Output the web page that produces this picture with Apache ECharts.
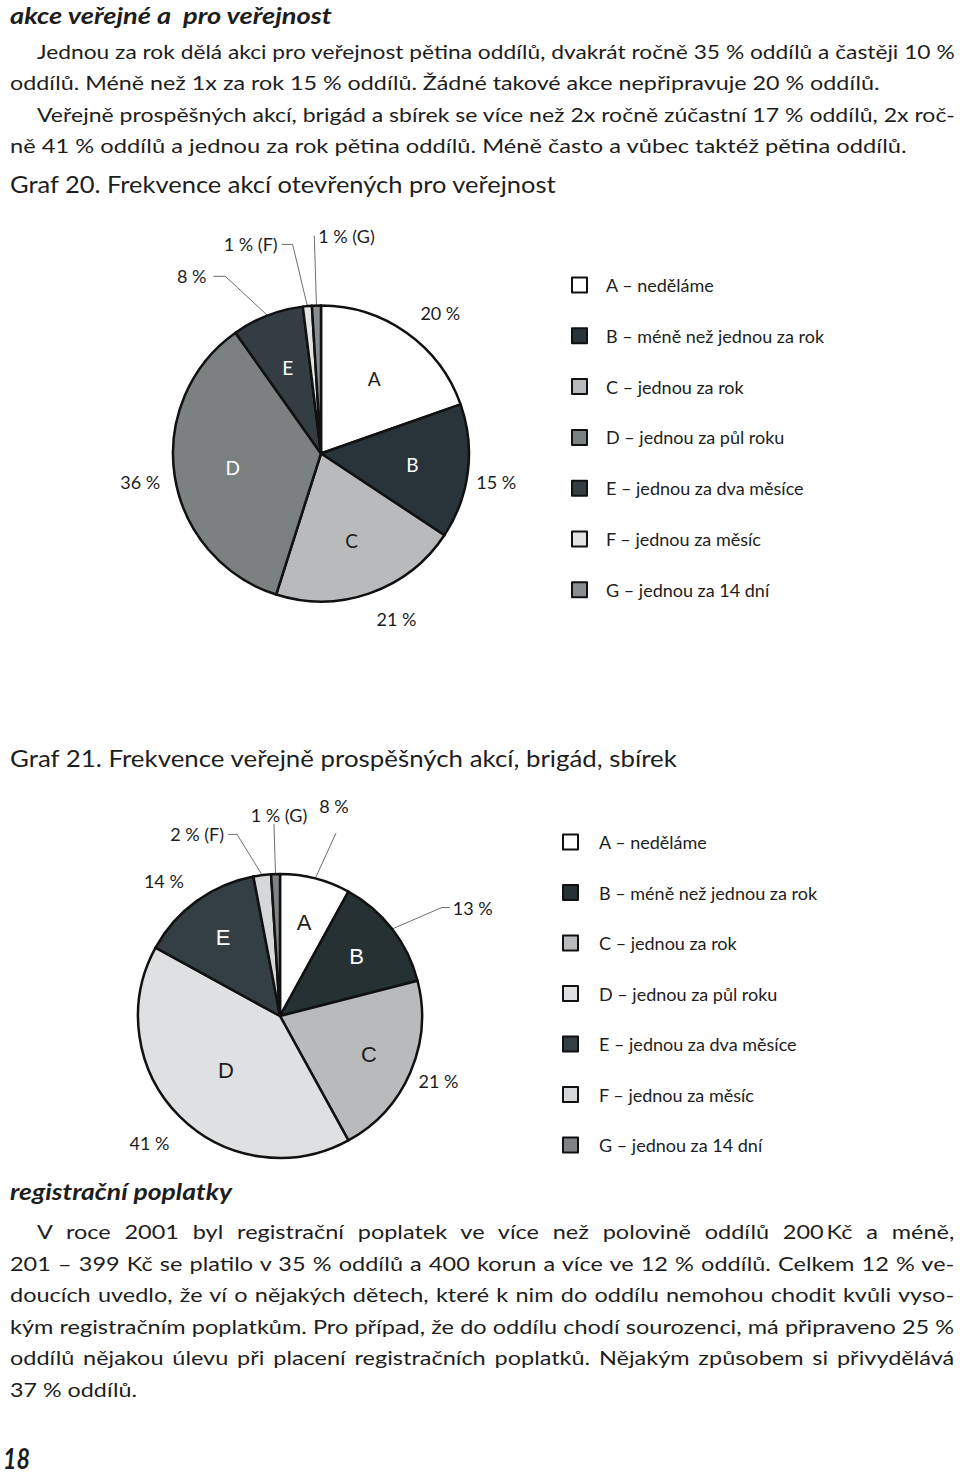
<!DOCTYPE html>
<html><head><meta charset="utf-8">
<script src="https://cdn.jsdelivr.net/npm/echarts@6/dist/echarts.min.js"></script>
<style>
html,body{margin:0;padding:0;background:#fff;}
#page{position:relative;width:960px;height:1475px;overflow:hidden;background:#fff;}
#c1,#c2{position:absolute;left:0;top:0;width:960px;height:1475px;}
#txt{position:absolute;left:0;top:0;}
</style></head>
<body><div id="page"><div id="c1"></div><div id="c2"></div>
<svg id="txt" width="960" height="1475" xmlns="http://www.w3.org/2000/svg"></svg></div>
<script>
// ---------- data ----------
const letters = ['A','B','C','D','E','F','G'];
const categories = ['neděláme','méně než jednou za rok','jednou za rok','jednou za půl roku','jednou za dva měsíce','jednou za měsíc','jednou za 14 dní'];
const graf20Values = [20, 15, 21, 36, 8, 1, 1];
const graf21Values = [8, 13, 21, 41, 14, 2, 1];
const graf20Title = 'Graf 20. Frekvence akcí otevřených pro veřejnost';
const graf21Title = 'Graf 21. Frekvence veřejně prospěšných akcí, brigád, sbírek';

// ---------- styles ----------
const graf20Colors = ['#ffffff','#29343a','#b8babb','#7b8081','#343e42','#e4e4e4','#898d8f'];
const graf21Colors = ['#ffffff','#263134','#b8babc','#dfe0e1','#343f43','#d6d7d8','#7f8385'];
const graf20InnerColors = ['#1d1d1d','#ffffff','#1d1d1d','#ffffff','#ffffff'];
const graf21InnerColors = ['#1d1d1d','#ffffff','#1d1d1d','#1d1d1d','#ffffff'];
// [length, length2, distanceToLabelLine, showLine]
const graf20LabelPlace = [[24,0,0,false],[87,-78,0,false],[28,-3,0,false],[35,-20,0,false],[42,39,7,true],[62,20,4,true],[70,0,4,true]];
const graf21LabelPlace = [[47,0,0,true],[35,30,3,true],[22,-12,0,false],[37,-16,0,false],[25,-2,0,false],[41,29,4,true],[50,0,0,true]];
// horizontal shift of the leader-line elbow
const graf20Elbow = [0, 0, 0, 0, -27, -9, 0];
const graf21Elbow = [0, 22, 0, 0, 0, -20, 0];

const legendNames = letters.map((l, i) => l + ' – ' + categories[i]);
function outerText(values, i) {
  return values[i] + ' %' + (i >= 5 ? ' (' + letters[i] + ')' : '');
}

function buildOption(cfg) {
  const names = legendNames;
  return {
    animation: false,
    backgroundColor: 'transparent',
    legend: {
      orient: 'vertical', left: cfg.legendLeft, top: cfg.legendTop, padding: 0,
      itemWidth: 15, itemHeight: 15, itemGap: cfg.legendGap, icon: 'rect',
      selectedMode: false, data: names,
      textStyle: { fontFamily: 'Lato', fontSize: 18, color: '#1d1d1d', lineHeight: 18, padding: [0, 0, 0, cfg.legendTextPad] },
      itemStyle: { borderColor: '#111', borderWidth: 2 }
    },
    series: [
      {
        type: 'pie', center: cfg.center, radius: cfg.radius, startAngle: 90, clockwise: true,
        avoidLabelOverlap: false, silent: true, emphasis: { disabled: true },
        itemStyle: { borderColor: '#111', borderWidth: 2.5 },
        label: { show: true, position: 'outside', color: '#1d1d1d', fontFamily: 'Lato', fontSize: 18,
          formatter: p => outerText(cfg.values, p.dataIndex) },
        labelLine: { show: false, smooth: false, lineStyle: { color: '#6f6f6f', width: 1 } },
        labelLayout: cfg.labelLayout,
        data: cfg.values.map((v, i) => ({
          value: v, name: names[i], itemStyle: { color: cfg.colors[i] },
          label: { distanceToLabelLine: cfg.place[i][2] },
          labelLine: { show: cfg.place[i][3], length: cfg.place[i][0], length2: cfg.place[i][1] }
        }))
      },
      {
        type: 'pie', center: cfg.center, radius: [cfg.ringInner, cfg.radius], startAngle: 90, clockwise: true,
        avoidLabelOverlap: false, silent: true, emphasis: { disabled: true }, z: 3,
        itemStyle: { color: 'rgba(0,0,0,0)', borderWidth: 0 },
        label: { show: true, position: 'inside', fontFamily: cfg.innerFont, fontSize: cfg.innerSize,
          formatter: p => letters[p.dataIndex] },
        labelLine: { show: false },
        labelLayout: function (p) {
          const f = cfg.innerPull[p.dataIndex];
          if (f == null || f === 1) return {};
          const lx = p.labelRect.x + p.labelRect.width / 2, ly = p.labelRect.y + p.labelRect.height / 2;
          return { x: cfg.center[0] + (lx - cfg.center[0]) * f, y: cfg.center[1] + (ly - cfg.center[1]) * f,
                   align: 'center', verticalAlign: 'middle' };
        },
        data: cfg.values.map((v, i) => ({
          value: v, name: letters[i],
          label: { show: i < 5, color: cfg.innerColors[i] || '#1d1d1d' }
        }))
      }
    ]
  };
}

function elbowOnly(elbow) {
  return function (p) {
    const d = elbow[p.dataIndex];
    if (!d || !p.labelLinePoints) return null;
    const pts = p.labelLinePoints;
    return { labelLinePoints: [pts[0], [pts[1][0] + d, pts[1][1]], pts[2]] };
  };
}

const chart1 = echarts.init(document.getElementById('c1'), null, { renderer: 'svg' });
const lay1 = elbowOnly(graf20Elbow);
chart1.setOption(buildOption({
  values: graf20Values, colors: graf20Colors, innerColors: graf20InnerColors, place: graf20LabelPlace,
  center: [321, 453.5], radius: 148, ringInner: 30, innerFont: 'Lato', innerSize: 19,
  innerPull: [1, 1, 1, 0.97, 1],
  legendLeft: 571, legendTop: 276, legendGap: 32.8, legendTextPad: 14,
  labelLayout: function (p) {
    if (p.dataIndex === 6 && p.labelLinePoints) {
      const a = p.labelLinePoints[0], b = p.labelLinePoints[1];
      return { x: b[0] + 4, y: b[1], align: 'left', verticalAlign: 'middle', labelLinePoints: [a, b, b] };
    }
    return lay1(p) || {};
  }
}));

const chart2 = echarts.init(document.getElementById('c2'), null, { renderer: 'svg' });
const lay2 = elbowOnly(graf21Elbow);
chart2.setOption(buildOption({
  values: graf21Values, colors: graf21Colors, innerColors: graf21InnerColors, place: graf21LabelPlace,
  center: [280, 1016], radius: 142, ringInner: 46, innerFont: 'Liberation Sans', innerSize: 22,
  innerPull: [1, 1, 1, 0.79, 1],
  legendLeft: 562, legendTop: 833, legendGap: 32.5, legendTextPad: 16,
  labelLayout: function (p) {
    if (!p.labelLinePoints) return {};
    const a = p.labelLinePoints[0], b = p.labelLinePoints[1];
    if (p.dataIndex === 0) {
      const e = [b[0] + 9, b[1]];
      return { x: e[0] - 2, y: e[1] - 27, align: 'center', verticalAlign: 'middle', labelLinePoints: [a, e, e] };
    }
    if (p.dataIndex === 6) {
      return { x: b[0] + 5, y: b[1] - 9, align: 'center', verticalAlign: 'middle', labelLinePoints: [a, b, b] };
    }
    return lay2(p) || {};
  }
}));

// ---------- page text ----------
const BODY = 'Lato';
// g: paragraph group (shared glyph stretch), j: justified line
const textLines = [
  { t: 'akce veřejné a  pro veřejnost', x: 10, x2: 332, y: 24, fs: 22, b: 1, i: 1 },
  { t: 'Jednou za rok dělá akci pro veřejnost pětina oddílů, dvakrát ročně 35 % oddílů a častěji 10 %', x: 37, x2: 955, y: 59, fs: 20, j: 1, g: 1 },
  { t: 'oddílů. Méně než 1x za rok 15 % oddílů. Žádné takové akce nepřipravuje 20 % oddílů.', x: 10, x2: 880, y: 90.5, fs: 20, g: 1 },
  { t: 'Veřejně prospěšných akcí, brigád a sbírek se více než 2x ročně zúčastní 17 % oddílů, 2x roč-', x: 37, x2: 955, y: 122, fs: 20, j: 1, g: 1 },
  { t: 'ně 41 % oddílů a jednou za rok pětina oddílů. Méně často a vůbec taktéž pětina oddílů.', x: 10, x2: 907, y: 153.5, fs: 20, g: 1 },
  { t: graf20Title, x: 10, x2: 556, y: 193, fs: 23 },
  { t: graf21Title, x: 10, x2: 677, y: 767, fs: 23 },
  { t: 'registrační poplatky', x: 10, x2: 232, y: 1200, fs: 22, b: 1, i: 1 },
  { t: 'V roce 2001 byl registrační poplatek ve více než polovině oddílů 200\u2009Kč a méně,', x: 37, x2: 955, y: 1239.5, fs: 20, j: 1, g: 1 },
  { t: '201 – 399 Kč se platilo v 35 % oddílů a 400 korun a více ve 12 % oddílů. Celkem 12 % ve-', x: 10, x2: 955, y: 1271, fs: 20, j: 1, g: 1 },
  { t: 'doucích uvedlo, že ví o nějakých dětech, které k nim do oddílu nemohou chodit kvůli vyso-', x: 10, x2: 955, y: 1302.5, fs: 20, j: 1, g: 1 },
  { t: 'kým registračním poplatkům. Pro případ, že do oddílu chodí sourozenci, má připraveno 25 %', x: 10, x2: 955, y: 1334, fs: 20, j: 1, g: 1 },
  { t: 'oddílů nějakou úlevu při placení registračních poplatků. Nějakým způsobem si přivydělává', x: 10, x2: 955, y: 1365.5, fs: 20, j: 1, g: 1 },
  { t: '37 % oddílů.', x: 10, x2: 137, y: 1397, fs: 20, g: 1 },
  { t: '18', x: 3, x2: 30, y: 1469, fs: 28, b: 1, i: 1 }
];
const NS = 'http://www.w3.org/2000/svg';
const svg = document.getElementById('txt');
const els = textLines.map(L => {
  const el = document.createElementNS(NS, 'text');
  el.setAttribute('x', L.x);
  el.setAttribute('y', L.y);
  el.setAttribute('font-family', BODY);
  el.setAttribute('font-size', L.fs);
  if (L.b) el.setAttribute('font-weight', 'bold');
  if (L.i) el.setAttribute('font-style', 'italic');
  el.setAttribute('fill', '#1d1d1d');
  el.style.whiteSpace = 'pre';
  el.textContent = L.t;
  svg.appendChild(el);
  return el;
});
const widths = els.map(el => el.getComputedTextLength());
let ks = [];
textLines.forEach((L, i) => { if (L.g && !L.j && L.t.length > 40) ks.push((L.x2 - L.x) / widths[i]); });
const kPara = ks.reduce((a, b) => a + b, 0) / ks.length;
textLines.forEach((L, i) => {
  const el = els[i], w = widths[i], T = L.x2 - L.x;
  const n = (L.t.match(/ /g) || []).length;
  let sx = T / w, ws = 0;
  if (L.j && n > 0) {
    const need = (T / kPara - w) / n;
    if (need >= 0) { sx = kPara; ws = need; }
  }
  if (ws) el.setAttribute('word-spacing', ws.toFixed(2));
  el.setAttribute('transform', 'translate(' + L.x + ',0) scale(' + sx.toFixed(4) + ',1) translate(' + (-L.x) + ',0)');
});
</script>
</body></html>
